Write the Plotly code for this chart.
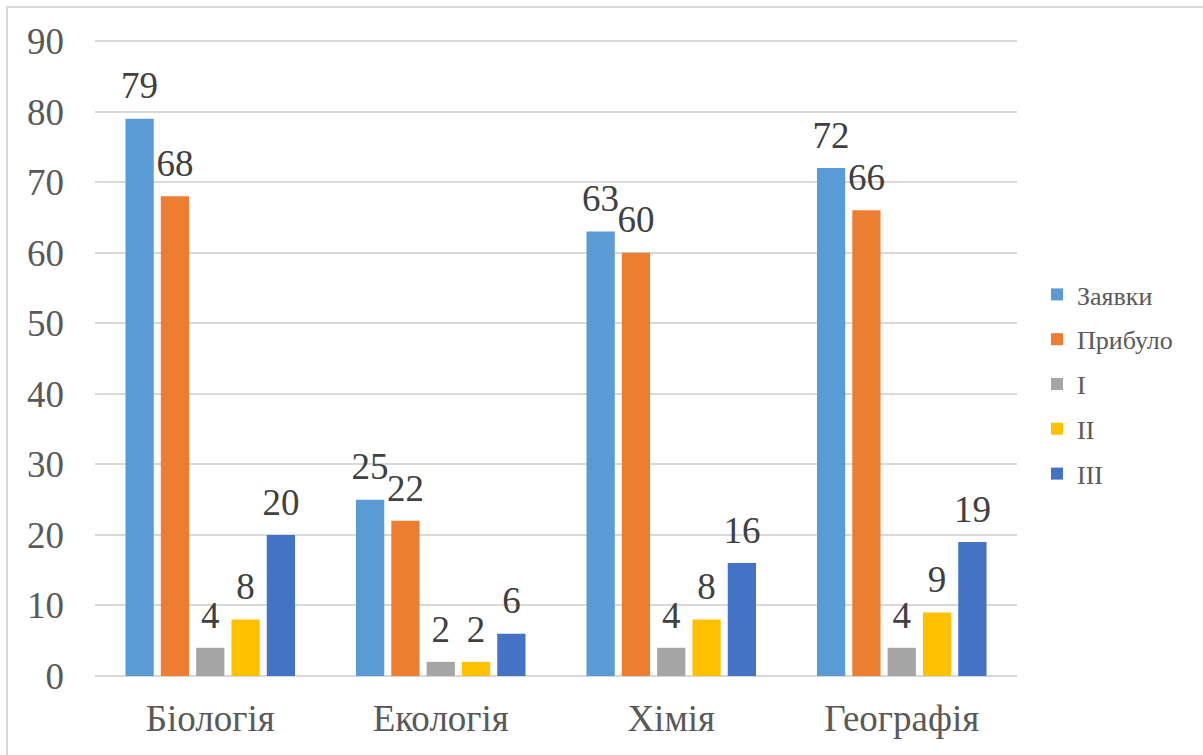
import plotly.graph_objects as go

categories = ["Біологія", "Екологія", "Хімія", "Географія"]
series_names = ["Заявки", "Прибуло", "I", "II", "III"]
zayavky = [79, 25, 63, 72]
prybulo = [68, 22, 60, 66]
level_1 = [4, 2, 4, 4]
level_2 = [8, 2, 8, 9]
level_3 = [20, 6, 16, 19]
y_ticks = [0, 10, 20, 30, 40, 50, 60, 70, 80, 90]

values = [zayavky, prybulo, level_1, level_2, level_3]
colors = ["#5B9BD5", "#ED7D31", "#A5A5A5", "#FFC000", "#4472C4"]

W, H = 1203, 755
Y_MAX = 91
L, R, B = 95, 186, 79
T = round(676 - 635 * Y_MAX / 90)
pw, ph = W - L - R, H - T - B

FONT = "Liberation Serif"
GAP = 0.234

fig = go.Figure()
for name, vals, col in zip(series_names, values, colors):
    fig.add_trace(go.Bar(
        name=name, x=categories, y=vals,
        marker=dict(color=col, line=dict(width=0)),
        legendgroup=name, hoverinfo="skip",
    ))
# data labels, grouped the same way as the bars
for name, vals in zip(series_names, values):
    fig.add_trace(go.Scatter(
        x=categories, y=vals, mode="markers+text",
        text=[str(v) for v in vals], textposition="top center",
        textfont=dict(family=FONT, size=37, color="#404040"),
        marker=dict(size=16, color="rgba(0,0,0,0)"),
        showlegend=False, cliponaxis=False, hoverinfo="skip",
        legendgroup=name,
    ))

def px_x(p):
    return (p - L) / pw

def px_y(p):
    return (H - B - p) / ph

border = dict(color="#D9D9D9", width=2)
fig.add_shape(type="rect", xref="paper", yref="paper",
              x0=px_x(7), x1=px_x(1212), y0=px_y(7), y1=px_y(762),
              line=border, layer="below")

fig.update_layout(
    width=W, height=H,
    margin=dict(l=L, r=R, t=T, b=B, autoexpand=False),
    paper_bgcolor="white", plot_bgcolor="white",
    barmode="group", bargap=GAP, bargroupgap=0.2,
    scattermode="group", scattergap=GAP,
    font=dict(family=FONT, color="#595959"),
    showlegend=True,
    legend=dict(
        xref="container", yref="container",
        x=1037 / W, y=1 - 271 / H, xanchor="left", yanchor="top",
        font=dict(family=FONT, size=26, color="#595959"),
        tracegroupgap=8, bgcolor="rgba(0,0,0,0)",
        itemclick=False,
    ),
    xaxis=dict(
        tickfont=dict(family=FONT, size=37, color="#595959"),
        showgrid=False, showline=False, ticks="",
        ticklabelstandoff=17, automargin=False,
    ),
    yaxis=dict(
        range=[0, Y_MAX], tickvals=y_ticks,
        tickfont=dict(family=FONT, size=37, color="#595959"),
        showgrid=True, gridcolor="#D9D9D9", gridwidth=1.5,
        zeroline=True, zerolinecolor="#D9D9D9", zerolinewidth=2,
        showline=False, ticks="",
        ticklabelstandoff=30, automargin=False,
    ),
)

fig.write_html("out.html", config={"displayModeBar": False},
               post_script="document.body.style.margin='0';document.body.style.overflow='hidden';")
